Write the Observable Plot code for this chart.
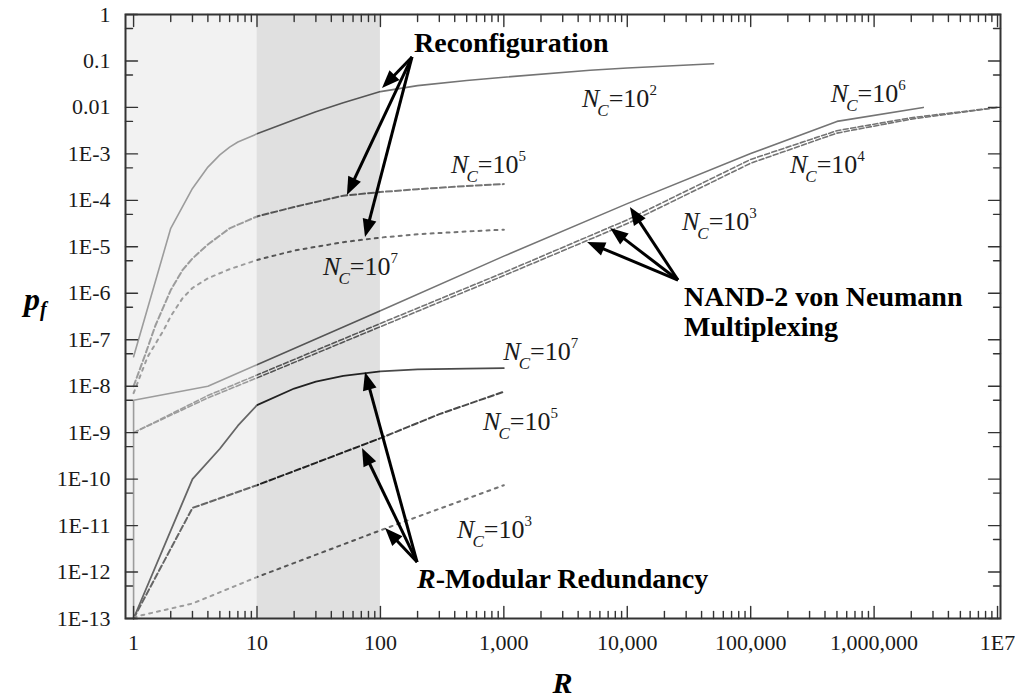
<!DOCTYPE html>
<html><head><meta charset="utf-8">
<script src="https://cdn.jsdelivr.net/npm/d3@7"></script>
<script src="https://cdn.jsdelivr.net/npm/@observablehq/plot@0.6"></script>
<style>body{margin:0;background:#fff} svg{display:block}</style>
</head><body><div id="chart"></div>
<script>
// ---------- axis ticks ----------
const xMajor = [1, 10, 100, 1e3, 1e4, 1e5, 1e6, 1e7];
const xTickLabels = ["1", "10", "100", "1,000", "10,000", "100,000", "1,000,000", "1E7"];
const yMajor = [1e-13, 1e-12, 1e-11, 1e-10, 1e-9, 1e-8, 1e-7, 1e-6, 1e-5, 1e-4, 1e-3, 1e-2, 1e-1, 1];
const yTickLabels = ["1E-13", "1E-12", "1E-11", "1E-10", "1E-9", "1E-8", "1E-7", "1E-6", "1E-5", "1E-4", "1E-3", "0.01", "0.1", "1"];
const xMinor = [];
for (let k = 0; k < 7; k++) for (let m = 2; m <= 9; m++) xMinor.push(m * 10 ** k);
const yMinor = yMajor.slice(1).map(v => v / 2);

// shaded R ranges
const bandLight = [{from: 0.86, to: 10}];
const bandDark = [{from: 10, to: 100}];

// ---------- Reconfiguration ----------
const reconfNC2_R = [1, 2, 3, 4, 5, 6, 7, 10, 20, 30, 50, 100, 200, 500, 1000, 5000, 10000, 50000];
const reconfNC2_p = [4.3e-8, 2.5e-5, 1.8e-4, 5.2e-4, 9.5e-4, 1.4e-3, 1.8e-3, 2.7e-3, 5.4e-3, 8.1e-3, 0.0126, 0.0219, 0.0295, 0.038, 0.0447, 0.063, 0.0708, 0.087];

const reconfNC5_R = [1, 1.25, 1.5, 2, 2.5, 3, 4, 6, 10, 20, 50, 100, 200, 500, 1000];
const reconfNC5_p = [1.0e-8, 5.0e-8, 2.0e-7, 1.17e-6, 3.2e-6, 5.6e-6, 1.12e-5, 2.5e-5, 4.5e-5, 7.2e-5, 1.26e-4, 1.51e-4, 1.74e-4, 2.04e-4, 2.24e-4];

const reconfNC7_R = [1, 1.3, 1.75, 2, 2.5, 3, 4, 6, 10, 20, 50, 100, 200, 500, 1000];
const reconfNC7_p = [7.1e-9, 4.3e-8, 1.6e-7, 3.2e-7, 7.9e-7, 1.3e-6, 2.1e-6, 3.3e-6, 5.2e-6, 8.3e-6, 1.26e-5, 1.58e-5, 1.86e-5, 2.14e-5, 2.34e-5];

// ---------- NAND-2 von Neumann multiplexing ----------
const nandNC6_R = [1, 1, 4, 10, 100, 1000, 10000, 100000, 500000, 2500000];
const nandNC6_p = [1e-13, 5e-9, 1e-8, 2.9e-8, 4.2e-7, 6.3e-6, 8.5e-5, 1.02e-3, 5.0e-3, 0.01];

const nandNC3_R = [1, 4, 10, 100, 1000, 10000, 100000, 500000, 2000000, 10000000];
const nandNC3_p = [1.0e-9, 5.6e-9, 1.51e-8, 1.91e-7, 2.4e-6, 3.16e-5, 6.3e-4, 2.8e-3, 5.6e-3, 0.01];
const nandNC4_R = [1, 4, 10, 100, 1000, 10000, 100000, 500000, 2000000, 10000000];
const nandNC4_p = [1.0e-9, 6.3e-9, 1.74e-8, 2.24e-7, 2.8e-6, 3.8e-5, 7.6e-4, 3.16e-3, 6.0e-3, 0.01];

// ---------- R-Modular Redundancy ----------
const rmrNC7_R = [1, 3, 5, 7, 10, 20, 30, 50, 100, 200, 500, 1000];
const rmrNC7_p = [1e-13, 1e-10, 4.5e-10, 1.41e-9, 3.9e-9, 8.9e-9, 1.26e-8, 1.66e-8, 2.09e-8, 2.29e-8, 2.4e-8, 2.45e-8];

const rmrNC5_R = [1, 3, 10, 30, 100, 300, 1000];
const rmrNC5_p = [1e-13, 2.4e-11, 7.4e-11, 2.24e-10, 7.6e-10, 2.5e-9, 7.6e-9];

const rmrNC3_R = [1, 3, 10, 100, 1000];
const rmrNC3_p = [1.07e-13, 2.1e-13, 7.8e-13, 7.9e-12, 7.4e-11];

// ---------- annotations (data coordinates) ----------
const groupLabels = [
  {text: "Reconfiguration", R: 189, p: 0.152},
  {text: "NAND-2 von Neumann", R: 29100, p: 5.2e-7},
  {text: "Multiplexing", R: 29100, p: 1.17e-7}
];
const rmrLabel = {R: 200, p: 4.4e-13};
const ncLabels = [
  {exp: "2", R: 4340, p: 0.01},
  {exp: "5", R: 377, p: 3.8e-4},
  {exp: "7", R: 34.6, p: 2.4e-6},
  {exp: "6", R: 450000, p: 0.0128},
  {exp: "4", R: 210000, p: 3.8e-4},
  {exp: "3", R: 28000, p: 2.24e-5},
  {exp: "7", R: 1000, p: 3.57e-8},
  {exp: "5", R: 685, p: 1.11e-9},
  {exp: "3", R: 422, p: 5.25e-12}
];
const arrows = [
  [182, 0.119, 104, 0.0255], [182, 0.119, 54, 1.27e-4], [182, 0.119, 75.7, 1.58e-5],
  [26000, 1.88e-6, 10600, 7.0e-5], [26000, 1.88e-6, 7330, 2.48e-5], [26000, 1.88e-6, 4770, 1.24e-5],
  [200, 1.6e-12, 75.7, 1.97e-8], [200, 1.6e-12, 71.6, 4.56e-10], [200, 1.6e-12, 110, 8.65e-12]
];

// ---------- chart ----------
const W = 1015, H = 700;
const FONT = "'Liberation Serif', Tinos, 'Times New Roman', serif";
const series = [
  {R: reconfNC2_R, p: reconfNC2_p, stroke: "url(#gMid)", w: 1.6, dash: null},
  {R: reconfNC5_R, p: reconfNC5_p, stroke: "url(#gMid)", w: 2, dash: "6,3"},
  {R: reconfNC7_R, p: reconfNC7_p, stroke: "url(#gMid)", w: 2, dash: "3,5"},
  {R: nandNC6_R, p: nandNC6_p, stroke: "url(#gMid)", w: 1.6, dash: null},
  {R: nandNC3_R, p: nandNC3_p, stroke: "url(#gMid)", w: 1.6, dash: "5,2.5"},
  {R: nandNC4_R, p: nandNC4_p, stroke: "url(#gMid)", w: 1.6, dash: "5,2.5"},
  {R: rmrNC7_R, p: rmrNC7_p, stroke: "url(#gDark)", w: 1.8, dash: null},
  {R: rmrNC5_R, p: rmrNC5_p, stroke: "url(#gDark)", w: 2, dash: "6,3"},
  {R: rmrNC3_R, p: rmrNC3_p, stroke: "url(#gMid)", w: 2, dash: "3,5"}
];

const tickShape = {draw(ctx, l) { ctx.moveTo(0, 0); ctx.lineTo(0, -l); }};
function tickMark(values, anchor, len) {
  const rotate = {bottom: 0, top: 180, left: 90, right: 270}[anchor];
  const key = (anchor === "bottom" || anchor === "top") ? "x" : "y";
  return Plot.vector(values, {[key]: d => d, frameAnchor: anchor, length: len, rotate, anchor: "start",
    shape: tickShape, stroke: "#333", strokeWidth: 1.4});
}

const chart = Plot.plot({
  width: W, height: H,
  marginLeft: 125, marginRight: 15, marginTop: 14, marginBottom: 82,
  x: {type: "log", domain: [0.86, 1.057e7]},
  y: {type: "log", domain: [1e-13, 1]},
  style: {fontFamily: FONT, fontSize: "22px", color: "#1a1a1a", background: "#fff", overflow: "visible"},
  marks: [
    Plot.rect(bandLight, {x1: "from", x2: "to", fill: "#f2f2f2"}),
    Plot.rect(bandDark, {x1: "from", x2: "to", fill: "#e0e0e0"}),
    ...series.map(s => Plot.line(d3.zip(s.R, s.p), {x: d => d[0], y: d => d[1], stroke: s.stroke,
      strokeWidth: s.w, strokeDasharray: s.dash})),
    tickMark(xMajor, "bottom", 12), tickMark(xMinor, "bottom", 7),
    tickMark(xMajor, "top", 12), tickMark(xMinor, "top", 7),
    tickMark(yMajor, "left", 12), tickMark(yMinor, "left", 7),
    tickMark(yMajor, "right", 12), tickMark(yMinor, "right", 7),
    Plot.frame({stroke: "#333", strokeWidth: 2}),
    Plot.axisX(xMajor, {anchor: "bottom", tickSize: 0, tickPadding: 16, fontSize: 22, label: null,
      fontFamily: FONT, tickFormat: d => xTickLabels[xMajor.indexOf(d)]}),
    Plot.axisY(yMajor, {anchor: "left", tickSize: 0, tickPadding: 15, fontSize: 22, label: null,
      fontFamily: FONT, tickFormat: d => yTickLabels[yMajor.indexOf(d)]})
  ]
});
document.getElementById("chart").appendChild(chart);

// ---------- post: gradients, arrows, rich labels ----------
const sx = chart.scale("x").apply, sy = chart.scale("y").apply;
const svg = d3.select(chart);
const defs = svg.insert("defs", ":first-child");
function grad(id, cLight, cDark, cWhite) {
  const a = sx(10) / W, b = sx(100) / W;
  const g = defs.append("linearGradient").attr("id", id).attr("gradientUnits", "userSpaceOnUse")
    .attr("x1", 0).attr("y1", 0).attr("x2", W).attr("y2", 0);
  [[0, cLight], [a, cLight], [a, cDark], [b, cDark], [b, cWhite], [1, cWhite]]
    .forEach(([o, c]) => g.append("stop").attr("offset", o).attr("stop-color", c));
}
grad("gMid", "#9c9c9c", "#555555", "#747474");
grad("gDark", "#666666", "#222222", "#4a4a4a");

const ann = svg.append("g").attr("text-anchor", "start").style("font-family", FONT);
arrows.forEach(([r0, p0, r1, p1]) => {
  const x0 = sx(r0), y0 = sy(p0), x1 = sx(r1), y1 = sy(p1);
  const dx = x1 - x0, dy = y1 - y0, L = Math.hypot(dx, dy), ux = dx / L, uy = dy / L;
  const hl = 18, hw = 7;
  const bx = x1 - ux * hl, by = y1 - uy * hl;
  ann.append("line").attr("x1", x0).attr("y1", y0).attr("x2", bx + ux * 3).attr("y2", by + uy * 3)
    .attr("stroke", "#000").attr("stroke-width", 3);
  ann.append("path").attr("d", `M${x1},${y1}L${bx - uy * hw},${by + ux * hw}L${bx + uy * hw},${by - ux * hw}Z`)
    .attr("fill", "#000");
});

groupLabels.forEach(d => {
  ann.append("text").attr("x", sx(d.R)).attr("y", sy(d.p))
    .attr("font-size", 28).attr("font-weight", "bold").attr("fill", "#000").text(d.text);
});
{
  const t = ann.append("text").attr("x", sx(rmrLabel.R)).attr("y", sy(rmrLabel.p))
    .attr("font-size", 28).attr("font-weight", "bold").attr("fill", "#000");
  t.append("tspan").attr("font-style", "italic").text("R");
  t.append("tspan").text("-Modular Redundancy");
}
ncLabels.forEach(d => {
  const t = ann.append("text").attr("x", sx(d.R)).attr("y", sy(d.p))
    .attr("font-size", 26).attr("fill", "#1a1a1a");
  t.append("tspan").attr("font-style", "italic").text("N");
  t.append("tspan").attr("font-style", "italic").attr("font-size", 17).attr("dx", -2).attr("dy", 9).text("C");
  t.append("tspan").attr("dy", -9).text("=10");
  t.append("tspan").attr("font-size", 15).attr("dy", -12).text(d.exp);
});
// axis titles
{
  const t = ann.append("text").attr("x", 24).attr("y", 310)
    .attr("font-size", 32).attr("font-weight", "bold").attr("font-style", "italic").attr("fill", "#000");
  t.append("tspan").text("p");
  t.append("tspan").attr("font-size", 20).attr("dy", 6).text("f");
  ann.append("text").attr("x", (125 + W - 15) / 2).attr("y", 693).attr("text-anchor", "middle")
    .attr("font-size", 30).attr("font-weight", "bold").attr("font-style", "italic")
    .attr("fill", "#000").text("R");
}
</script>
</body></html>
